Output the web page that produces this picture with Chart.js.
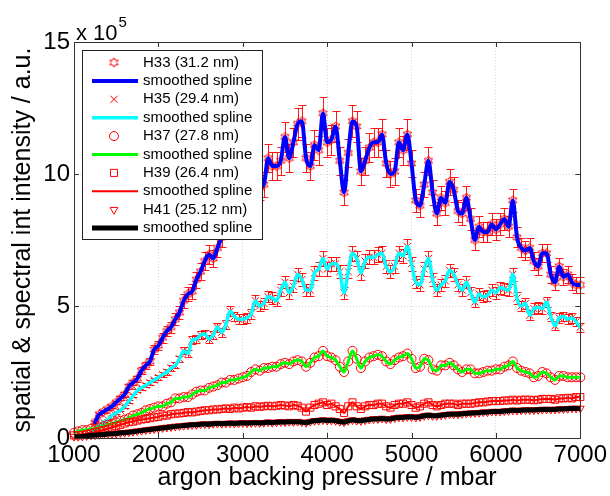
<!DOCTYPE html>
<html>
<head>
<meta charset="utf-8">
<script src="https://cdn.jsdelivr.net/npm/chart.js@4.4.1/dist/chart.umd.min.js"></script>
<style>
  html, body { margin: 0; padding: 0; background: #fff; }
  #chart { display: block; }
</style>
</head>
<body>
<canvas id="chart" width="610" height="496"></canvas>
<script>
// argon backing pressure / mbar (one sample every 50 mbar)
const pressure = [
  1000, 1050, 1100, 1150, 1200, 1250, 1300, 1350, 1400, 1450,
  1500, 1550, 1600, 1650, 1700, 1750, 1800, 1850, 1900, 1950,
  2000, 2050, 2100, 2150, 2200, 2250, 2300, 2350, 2400, 2450,
  2500, 2550, 2600, 2650, 2700, 2750, 2800, 2850, 2900, 2950,
  3000, 3050, 3100, 3150, 3200, 3250, 3300, 3350, 3400, 3450,
  3500, 3550, 3600, 3650, 3700, 3750, 3800, 3850, 3900, 3950,
  4000, 4050, 4100, 4150, 4200, 4250, 4300, 4350, 4400, 4450,
  4500, 4550, 4600, 4650, 4700, 4750, 4800, 4850, 4900, 4950,
  5000, 5050, 5100, 5150, 5200, 5250, 5300, 5350, 5400, 5450,
  5500, 5550, 5600, 5650, 5700, 5750, 5800, 5850, 5900, 5950,
  6000, 6050, 6100, 6150, 6200, 6250, 6300, 6350, 6400, 6450,
  6500, 6550, 6600, 6650, 6700, 6750, 6800, 6850, 6900, 6950,
  7000
];

// intensities in units of 1e5 a.u.
const h33 = [
  null, null, null, null, null, 0.6, 0.9, 1.0, 1.1, 1.2,
  1.35, 1.5, 1.65, 1.95, 2.1, 2.25, 2.55, 2.75, 2.9, 3.35,
  3.5, 3.8, 4.05, 4.2, 4.5, 4.75, 5.2, 5.45, 5.55, 6.0,
  6.3, 6.7, 6.95, 6.8, 7.2, 7.6, 8.0, 8.3, 8.6, 8.9,
  9.1, 9.2, 9.4, 9.3, 9.5, 9.6, 10.6, 10.3, 10.3, 10.5,
  11.4, 10.6, 11.2, 11.9, 12.0, 10.6, 10.3, 11.1, 10.9, 12.3,
  11.2, 11.3, 11.8, 10.5, 9.3, 10.8, 12.0, 11.8, 10.1, 10.5,
  11.0, 11.2, 11.2, 11.5, 10.4, 10.0, 10.1, 11.2, 10.9, 11.5,
  10.4, 9.0, 8.8, 9.6, 10.5, 9.3, 8.5, 9.1, 8.9, 9.7,
  9.4, 8.6, 8.5, 9.1, 8.3, 7.5, 8.0, 7.8, 7.8, 8.1,
  7.9, 8.1, 8.3, 8.0, 9.0, 7.6, 7.2, 7.1, 7.2, 6.7,
  6.5, 7.0, 7.0, 6.2, 5.9, 6.5, 6.1, 6.2, 5.9, 5.8,
  5.8
];
const h35 = [
  null, null, null, null, 0.2, 0.35, 0.5, 0.6, 0.7, 0.85,
  0.95, 1.05, 1.2, 1.4, 1.6, 1.8, 1.9, 2.0, 2.1, 2.2,
  2.3, 2.4, 2.5, 2.65, 2.75, 3.0, 3.3, 3.2, 3.7, 3.75,
  3.9, 3.95, 3.75, 3.9, 4.2, 4.0, 4.3, 4.8, 4.6, 4.5,
  4.5, 4.55, 4.7, 5.2, 5.0, 5.1, 5.35, 5.3, 5.2, 5.6,
  5.9, 5.5, 5.75, 6.2, 6.0, 5.6, 5.6, 6.25, 6.4, 6.8,
  6.4, 6.6, 6.6, 6.3, 5.5, 6.3, 7.0, 6.8, 6.25, 6.7,
  6.85, 6.85, 6.95, 7.0, 6.5, 6.3, 6.5, 7.0, 6.9, 7.25,
  6.6, 5.9, 5.8, 6.4, 6.8, 6.0, 5.6, 5.8, 5.95, 6.35,
  6.2, 5.8, 5.6, 5.9, 5.5, 5.15, 5.45, 5.35, 5.4, 5.6,
  5.5, 5.7, 5.65, 5.6, 6.2, 5.3, 5.0, 5.1, 4.65, 4.9,
  4.95, 4.9, 5.15, 4.6, 4.25, 4.55, 4.6, 4.5, 4.55, 4.4,
  4.2
];
const h37 = [
  0.2, 0.25, 0.3, 0.3, 0.35, 0.35, 0.4, 0.45, 0.5, 0.55,
  0.6, 0.65, 0.7, 0.75, 0.85, 0.9, 0.95, 1.05, 1.1, 1.15,
  1.2, 1.2, 1.3, 1.35, 1.5, 1.5, 1.55, 1.55, 1.65, 1.75,
  1.8, 1.8, 1.9, 1.95, 2.0, 2.1, 2.1, 2.2, 2.2, 2.25,
  2.3, 2.35, 2.5, 2.6, 2.55, 2.65, 2.65, 2.7, 2.7, 2.8,
  2.85, 2.8, 2.9, 2.95, 2.9, 2.7, 2.85, 3.05, 3.1, 3.3,
  3.1, 3.05, 2.95, 2.7, 2.5, 2.9, 3.3, 3.0, 2.65, 2.9,
  3.05, 3.1, 3.15, 3.1, 2.9, 2.8, 2.95, 3.05, 3.1, 3.2,
  3.0, 2.65, 2.7, 3.0, 2.95, 2.6, 2.55, 2.75, 2.75, 2.85,
  2.75, 2.6, 2.5, 2.6, 2.6, 2.45, 2.45, 2.5, 2.55, 2.55,
  2.6, 2.6, 2.7, 2.75, 2.9, 2.65, 2.55, 2.5, 2.45, 2.3,
  2.35, 2.5, 2.45, 2.3, 2.2, 2.35, 2.35, 2.3, 2.3, 2.3,
  2.3
];
const h39 = [
  0.1, 0.1, 0.12, 0.15, 0.18, 0.22, 0.27, 0.3, 0.35, 0.4,
  0.45, 0.5, 0.55, 0.6, 0.62, 0.66, 0.7, 0.72, 0.75, 0.78,
  0.8, 0.85, 0.85, 0.9, 0.92, 0.93, 0.95, 0.98, 0.97, 1.0,
  1.02, 1.05, 1.05, 1.08, 1.08, 1.1, 1.12, 1.1, 1.15, 1.12,
  1.15, 1.17, 1.15, 1.2, 1.18, 1.2, 1.22, 1.2, 1.22, 1.25,
  1.23, 1.2, 1.25, 1.22, 1.15, 1.0, 1.15, 1.25, 1.3, 1.35,
  1.25, 1.3, 1.2, 1.1, 0.95, 1.2, 1.35, 1.2, 1.1, 1.2,
  1.25, 1.25, 1.3, 1.3, 1.2, 1.15, 1.25, 1.3, 1.3, 1.35,
  1.25, 1.15, 1.2, 1.3, 1.35, 1.25, 1.2, 1.25, 1.3, 1.3,
  1.3, 1.25, 1.3, 1.3, 1.3, 1.32, 1.35, 1.35, 1.38, 1.4,
  1.4, 1.4, 1.42, 1.42, 1.45, 1.42, 1.45, 1.45, 1.45, 1.43,
  1.45, 1.48, 1.48, 1.48, 1.45, 1.5, 1.5, 1.52, 1.5, 1.55,
  1.55
];
const h41 = [
  0.05, 0.05, 0.06, 0.08, 0.1, 0.11, 0.12, 0.13, 0.15, 0.16,
  0.17, 0.19, 0.2, 0.22, 0.24, 0.26, 0.28, 0.3, 0.32, 0.34,
  0.36, 0.38, 0.4, 0.42, 0.44, 0.45, 0.47, 0.48, 0.5, 0.5,
  0.52, 0.53, 0.52, 0.54, 0.55, 0.54, 0.55, 0.56, 0.55, 0.56,
  0.57, 0.56, 0.57, 0.58, 0.57, 0.58, 0.6, 0.58, 0.6, 0.61,
  0.6, 0.62, 0.61, 0.62, 0.6, 0.58, 0.62, 0.65, 0.66, 0.68,
  0.66, 0.67, 0.65, 0.62, 0.6, 0.65, 0.68, 0.66, 0.65, 0.68,
  0.7, 0.72, 0.72, 0.74, 0.72, 0.72, 0.76, 0.78, 0.78, 0.8,
  0.8, 0.78, 0.8, 0.84, 0.86, 0.84, 0.84, 0.86, 0.88, 0.9,
  0.9, 0.9, 0.92, 0.93, 0.94, 0.95, 0.96, 0.98, 0.98, 1.0,
  1.0, 1.0, 1.02, 1.03, 1.05, 1.04, 1.05, 1.06, 1.06, 1.06,
  1.07, 1.08, 1.08, 1.08, 1.08, 1.1, 1.1, 1.11, 1.12, 1.12,
  1.12
];

const seriesNames = ["H33 (31.2 nm)", "H35 (29.4 nm)", "H37 (27.8 nm)", "H39 (26.4 nm)", "H41 (25.12 nm)"];
const splineLabel = "smoothed spline";
const xTicks = [1000, 2000, 3000, 4000, 5000, 6000, 7000];
const yTicks = [0, 5, 10, 15];

const FONT = "'Liberation Sans', Arial, Helvetica, sans-serif";
const RED = "#ff0000";

// six-pointed star marker (matlab 'hexagram')
function hexagram(size) {
  const c = document.createElement("canvas");
  c.width = size; c.height = size;
  const g = c.getContext("2d");
  const cx = size / 2, cy = size / 2, ro = size / 2 - 0.8, ri = ro * 0.58;
  g.strokeStyle = RED;
  g.lineWidth = 1;
  g.beginPath();
  for (let k = 0; k < 12; k++) {
    const a = -Math.PI / 2 + k * Math.PI / 6;
    const r = k % 2 ? ri : ro;
    const px = cx + r * Math.cos(a), py = cy + r * Math.sin(a);
    if (k) g.lineTo(px, py); else g.moveTo(px, py);
  }
  g.closePath();
  g.stroke();
  return c;
}
const hexImg = hexagram(11);

function pts(vals) {
  const out = [];
  vals.forEach((v, i) => { if (v !== null) out.push({ x: pressure[i], y: v }); });
  return out;
}

const series = [
  { vals: h33, color: "#0000ff", width: 4, marker: { pointStyle: hexImg, radius: 5, rotation: 0 }, relErr: 0.05 },
  { vals: h35, color: "#00ffff", width: 3.5, marker: { pointStyle: "crossRot", radius: 5, rotation: 0 }, relErr: 0.04 },
  { vals: h37, color: "#00ff00", width: 3, marker: { pointStyle: "circle", radius: 4.5, rotation: 0 }, relErr: 0 },
  { vals: h39, color: "#ff0000", width: 2, marker: { pointStyle: "rect", radius: 5, rotation: 0 }, relErr: 0 },
  { vals: h41, color: "#000000", width: 5, marker: { pointStyle: "triangle", radius: 4.5, rotation: 180 }, relErr: 0 }
];

// dataset 0 is painted last, so the last plotted series goes first
const datasets = [];
for (let s = series.length - 1; s >= 0; s--) {
  const S = series[s];
  datasets.push({
    label: splineLabel,
    data: pts(S.vals),
    borderColor: S.color,
    borderWidth: S.width,
    pointRadius: 0,
    cubicInterpolationMode: "monotone",
    fill: false
  });
  datasets.push({
    label: seriesNames[s],
    data: pts(S.vals),
    showLine: false,
    pointStyle: S.marker.pointStyle,
    pointRadius: S.marker.radius,
    pointRotation: S.marker.rotation,
    pointBorderColor: RED,
    pointBackgroundColor: "rgba(0,0,0,0)",
    pointBorderWidth: 1,
    relErr: S.relErr,
    clip: false
  });
}

const errorBars = {
  id: "errorBars",
  beforeDatasetDraw(chart, args) {
    const ds = chart.data.datasets[args.index];
    if (!ds.relErr) return;
    const { ctx } = chart;
    const x = chart.scales.x, y = chart.scales.y;
    ctx.save();
    ctx.strokeStyle = "rgba(255,0,0,0.9)";
    ctx.lineWidth = 1;
    ctx.beginPath();
    ds.data.forEach(p => {
      const px = Math.round(x.getPixelForValue(p.x)) + 0.5;
      const e = p.y * ds.relErr;
      const top = Math.round(y.getPixelForValue(p.y + e)) + 0.5;
      const bot = Math.round(y.getPixelForValue(p.y - e)) + 0.5;
      ctx.moveTo(px, top); ctx.lineTo(px, bot);
      ctx.moveTo(px - 4, top); ctx.lineTo(px + 4, top);
      ctx.moveTo(px - 4, bot); ctx.lineTo(px + 4, bot);
    });
    ctx.stroke();
    ctx.restore();
  }
};

const frame = {
  id: "frame",
  afterDatasetsDraw(chart) {
    const { ctx, chartArea: a } = chart;
    const x = chart.scales.x, y = chart.scales.y;
    ctx.save();
    ctx.strokeStyle = "#333";
    ctx.lineWidth = 1;
    ctx.strokeRect(Math.round(a.left) + 0.5, Math.round(a.top) + 0.5,
      Math.round(a.right - a.left), Math.round(a.bottom - a.top));
    ctx.beginPath();
    xTicks.forEach(t => {
      const px = Math.round(x.getPixelForValue(t)) + 0.5;
      ctx.moveTo(px, a.bottom); ctx.lineTo(px, a.bottom - 5);
      ctx.moveTo(px, a.top); ctx.lineTo(px, a.top + 5);
    });
    yTicks.forEach(t => {
      const py = Math.round(y.getPixelForValue(t)) + 0.5;
      ctx.moveTo(a.left, py); ctx.lineTo(a.left + 5, py);
      ctx.moveTo(a.right, py); ctx.lineTo(a.right - 5, py);
    });
    ctx.stroke();
    ctx.restore();
  }
};

const legendBox = {
  id: "legendBox",
  afterDraw(chart) {
    const ctx = chart.ctx;
    ctx.save();
    // exponent label above the y axis
    ctx.fillStyle = "#000";
    ctx.textBaseline = "alphabetic";
    ctx.font = "22px " + FONT;
    ctx.fillText("x 10", 76, 40);
    const w = ctx.measureText("x 10").width;
    ctx.font = "15px " + FONT;
    ctx.fillText("5", 76 + w + 1, 27);

    const bx = 82.5, by = 50.5, bw = 180, bh = 189;
    ctx.fillStyle = "#fff";
    ctx.fillRect(bx, by, bw, bh);
    ctx.strokeStyle = "#222";
    ctx.lineWidth = 1;
    ctx.strokeRect(bx, by, bw, bh);

    ctx.font = "15px " + FONT;
    ctx.textBaseline = "middle";
    series.forEach((S, i) => {
      const y0 = 62.5 + i * 36.8, y1 = y0 + 18.4;
      const m = S.marker;
      if (m.pointStyle === hexImg) {
        ctx.drawImage(hexImg, 114 - 5.5, y0 - 5.5);
      } else {
        ctx.strokeStyle = RED;
        ctx.fillStyle = "rgba(0,0,0,0)";
        ctx.lineWidth = 1;
        Chart.helpers.drawPoint(ctx, { pointStyle: m.pointStyle, radius: m.radius, rotation: m.rotation, borderWidth: 1 }, 114, y0);
      }
      ctx.fillStyle = "#000";
      ctx.fillText(seriesNames[i], 143, y0);
      ctx.strokeStyle = S.color;
      ctx.lineWidth = S.width;
      ctx.beginPath();
      ctx.moveTo(92, y1); ctx.lineTo(138, y1);
      ctx.stroke();
      ctx.fillStyle = "#000";
      ctx.fillText(splineLabel, 143, y1);
    });
    ctx.restore();
  }
};

new Chart(document.getElementById("chart"), {
  type: "line",
  data: { datasets: datasets },
  options: {
    responsive: false,
    animation: false,
    layout: { padding: { top: 42, right: 27, left: 0, bottom: 0 } },
    plugins: { legend: { display: false }, tooltip: { enabled: false } },
    elements: { line: { borderCapStyle: "round", borderJoinStyle: "round" } },
    scales: {
      x: {
        type: "linear",
        min: 1000,
        max: 7000,
        afterFit(scale) { scale.height = 58; },
        ticks: {
          stepSize: 1000,
          padding: 3,
          color: "#000",
          font: { size: 24, family: FONT },
          maxRotation: 0,
          callback: v => String(v)
        },
        grid: { color: "#d4d4d4", lineWidth: 1, drawTicks: false },
        border: { display: false, dash: [1, 2] },
        title: {
          display: true,
          text: "argon backing pressure / mbar",
          color: "#000",
          font: { size: 25, family: FONT },
          padding: { top: 0, bottom: 3 }
        }
      },
      y: {
        min: 0,
        max: 15,
        afterFit(scale) { scale.width = 74; },
        ticks: {
          stepSize: 5,
          padding: 4,
          color: "#000",
          font: { size: 24, family: FONT }
        },
        grid: { color: "#d4d4d4", lineWidth: 1, drawTicks: false },
        border: { display: false, dash: [1, 2] },
        title: {
          display: true,
          text: "spatial & spectral int intensity / a.u.",
          color: "#000",
          font: { size: 25, family: FONT },
          padding: { top: 8, bottom: 0 }
        }
      }
    }
  },
  plugins: [errorBars, frame, legendBox]
});
</script>
</body>
</html>
